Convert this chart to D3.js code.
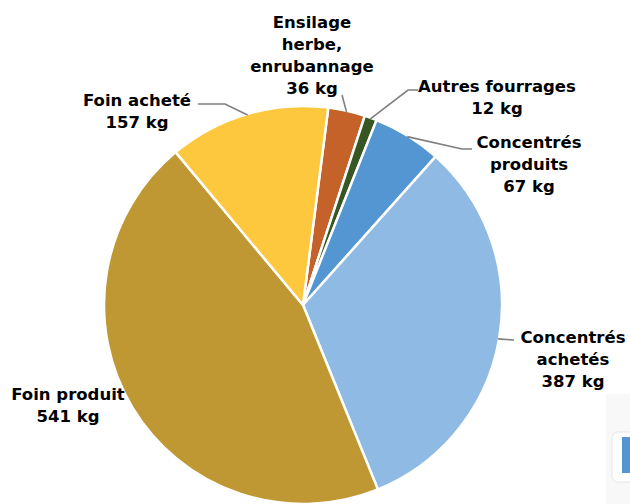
<!DOCTYPE html>
<html>
<head>
<meta charset="utf-8">
<script src="https://cdn.jsdelivr.net/npm/d3@7"></script>
<style>
  html, body { margin: 0; padding: 0; background: #fff; }
  svg { display: block; }
  .lbl { font-family: "DejaVu Sans", "Liberation Sans", sans-serif; font-weight: bold; font-size: 16.5px; fill: #000; }
</style>
</head>
<body>
<svg id="chart" width="630" height="504"></svg>
<script>
// slice order, clockwise from just right of 12 o'clock
const categories = ['Ensilage herbe, enrubannage', 'Autres fourrages', 'Concentrés produits', 'Concentrés achetés', 'Foin produit', 'Foin acheté'];
const values = [36, 12, 67, 387, 541, 157];
const labelLines = [
  ['Ensilage', 'herbe,', 'enrubannage', '36 kg'],
  ['Autres fourrages', '12 kg'],
  ['Concentrés', 'produits', '67 kg'],
  ['Concentrés', 'achetés', '387 kg'],
  ['Foin produit', '541 kg'],
  ['Foin acheté', '157 kg']
];
const colors = ['#C5622A', '#375623', '#5396D1', '#8EBAE3', '#BF9833', '#FEC83E'];

(function() {

const svg = d3.select('#chart');
const cx = 303, cy = 305, radius = 199;
const startDeg = 7.3;

// faint clipped panel at the right edge
svg.append('rect').attr('x', 606).attr('y', 394).attr('width', 30).attr('height', 110).attr('fill', '#f8f8f8');
svg.append('rect').attr('x', 612).attr('y', 432).attr('width', 30).attr('height', 50).attr('rx', 6)
  .attr('fill', '#fff').attr('stroke', '#e6e6e6');
svg.append('rect').attr('x', 622).attr('y', 437).attr('width', 10).attr('height', 36).attr('fill', '#5396D1');

const data = categories.map((c, i) => ({name: c, value: values[i], lines: labelLines[i], color: colors[i]}));

const start = startDeg * Math.PI / 180;
const pie = d3.pie()
  .sort(null)
  .value(d => d.value)
  .startAngle(start)
  .endAngle(start + 2 * Math.PI);

const arc = d3.arc().innerRadius(0).outerRadius(radius);

const g = svg.append('g').attr('transform', `translate(${cx},${cy})`);
const arcs = pie(data);

g.selectAll('path')
  .data(arcs)
  .enter().append('path')
    .attr('d', arc)
    .attr('fill', d => d.data.color)
    .attr('stroke', '#fff')
    .attr('stroke-width', 2.5)
    .attr('stroke-linejoin', 'round');

// label anchors (x centre, first baseline) and leader elbows, by slice
const labelPos = [[312, 28], [497, 92], [529, 148], [573, 343], [68, 400], [137, 106]];
const elbows = [
  [[342, 95]],
  [[408, 90], [418, 90]],
  [[462, 149], [472, 149]],
  [[514, 340]],
  null,
  [[225, 104], [198, 104]]
];

const edgePoint = (d, rr) => {
  const a = (d.startAngle + d.endAngle) / 2;
  return [cx + rr * Math.sin(a), cy - rr * Math.cos(a)];
};

arcs.forEach((d, i) => {
  if (!elbows[i]) return;
  const pts = [edgePoint(d, radius - 1)].concat(elbows[i]);
  svg.append('path')
    .attr('d', d3.line()(pts))
    .attr('fill', 'none')
    .attr('stroke', '#7f7f7f')
    .attr('stroke-width', 1.6);
});

const lineH = 22;
const labels = svg.selectAll('.lbl')
  .data(arcs)
  .enter().append('text')
    .attr('class', 'lbl')
    .attr('text-anchor', 'middle');

labels.selectAll('tspan')
  .data((d, i) => d.data.lines.map((t, j) => ({t, j, i})))
  .enter().append('tspan')
    .attr('x', d => labelPos[d.i][0])
    .attr('y', d => labelPos[d.i][1] + d.j * lineH)
    .text(d => d.t);

})();
</script>
</body>
</html>
